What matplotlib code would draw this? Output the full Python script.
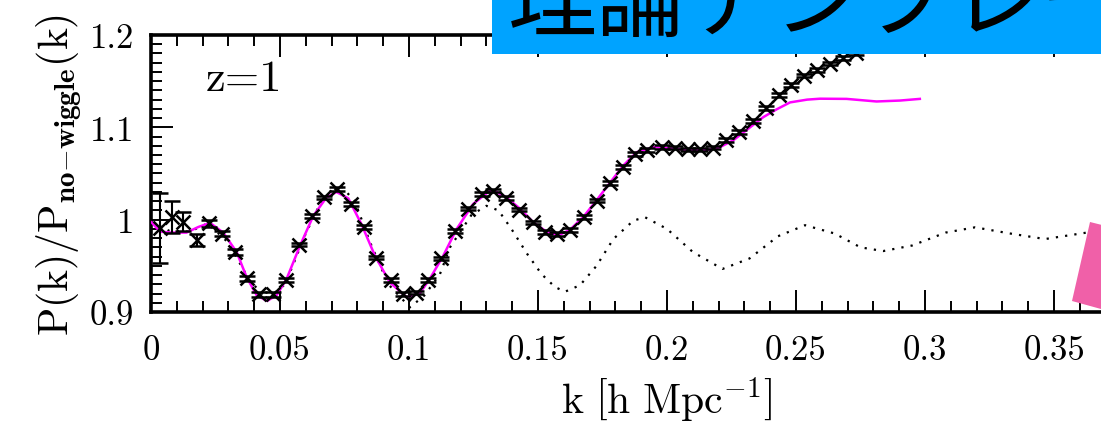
import numpy as np
import matplotlib
matplotlib.use("Agg")
import matplotlib.pyplot as plt
from matplotlib.patches import Rectangle, Polygon

plt.rcParams['font.family'] = 'cmr10'
plt.rcParams['mathtext.fontset'] = 'cm'
plt.rcParams['axes.formatter.use_mathtext'] = True

# measured P(k)/P_nw with errors (z=1)
k_data = [0.0035, 0.008, 0.0123, 0.0177, 0.0226, 0.0274, 0.0326, 0.0373, 0.042, 0.0474,
          0.0522, 0.0575, 0.0623, 0.0672, 0.0723, 0.0774, 0.0826, 0.0871, 0.0929, 0.0978,
          0.1027, 0.1075, 0.1126, 0.1178, 0.123, 0.1282, 0.1327, 0.1376, 0.1428, 0.1479,
          0.1527, 0.1575, 0.1626, 0.1678, 0.173, 0.1779, 0.1828, 0.1876, 0.1924, 0.198,
          0.2031, 0.2083, 0.2128, 0.218, 0.2229, 0.228, 0.2332, 0.2382, 0.2434, 0.2479,
          0.2531, 0.258, 0.2631, 0.2683, 0.2734]
ratio_data = [0.991, 1.003, 0.998, 0.978, 0.996, 0.985, 0.965, 0.9365, 0.919, 0.919,
              0.935, 0.973, 1.004, 1.024, 1.033, 1.017, 0.992, 0.959, 0.935, 0.9195,
              0.921, 0.935, 0.958, 0.988, 1.012, 1.028, 1.0315, 1.0235, 1.011, 0.997,
              0.987, 0.9845, 0.989, 1.003, 1.0206, 1.0398, 1.057, 1.071, 1.0755, 1.079,
              1.078, 1.076, 1.076, 1.078, 1.086, 1.095, 1.107, 1.121, 1.135, 1.146,
              1.156, 1.162, 1.169, 1.175, 1.18]
err_data = [0.038, 0.017, 0.010, 0.006, 0.004, 0.003, 0.003, 0.0025, 0.0025, 0.0025,
            0.002, 0.002, 0.002, 0.002, 0.002, 0.002, 0.002, 0.002, 0.002, 0.002,
            0.002, 0.002, 0.002, 0.002, 0.002, 0.002, 0.002, 0.002, 0.002, 0.002,
            0.002, 0.002, 0.002, 0.002, 0.002, 0.002, 0.002, 0.002, 0.002, 0.002,
            0.002, 0.002, 0.002, 0.002, 0.002, 0.002, 0.002, 0.002, 0.002, 0.002,
            0.002, 0.002, 0.002, 0.002, 0.002]

# nonlinear model (magenta)
k_model = [0.0003, 0.0035, 0.008, 0.0138, 0.0183, 0.0229, 0.028, 0.0332, 0.0371, 0.041,
           0.045, 0.0487, 0.0526, 0.0578, 0.0629, 0.068, 0.0719, 0.0765, 0.0816, 0.0868,
           0.0926, 0.0991, 0.1043, 0.1081, 0.1133, 0.1185, 0.1249, 0.1307, 0.1327, 0.1378,
           0.143, 0.1482, 0.1533, 0.1579, 0.1624, 0.1676, 0.1727, 0.1779, 0.1831, 0.1882,
           0.1947, 0.2025, 0.2102, 0.2167, 0.2205, 0.2257, 0.2322, 0.2373, 0.2425, 0.2477,
           0.2543, 0.2593, 0.2696, 0.2812, 0.2903, 0.298]
ratio_model = [0.997, 0.987, 0.986, 0.986, 0.992, 0.9965, 0.986, 0.965, 0.9376, 0.918,
               0.912, 0.918, 0.936, 0.972, 1.004, 1.024, 1.030, 1.023, 0.995, 0.961,
               0.932, 0.916, 0.9206, 0.936, 0.961, 0.99, 1.017, 1.030, 1.032, 1.024,
               1.012, 0.997, 0.987, 0.983, 0.989, 1.003, 1.021, 1.040, 1.0587, 1.073,
               1.0785, 1.077, 1.075, 1.076, 1.0785, 1.086, 1.10, 1.111, 1.1195, 1.127,
               1.13, 1.131, 1.1308, 1.128, 1.129, 1.1308]

# linear theory (dotted)
k_lin = [0.0, 0.007, 0.015, 0.022, 0.03, 0.038, 0.045, 0.052, 0.06, 0.066,
         0.0733, 0.079, 0.085, 0.092, 0.1004, 0.106, 0.112, 0.1159, 0.1242, 0.130,
         0.1347, 0.1397, 0.1458, 0.1514, 0.1566, 0.1605, 0.1663, 0.1727, 0.1792, 0.187,
         0.1915, 0.2, 0.21, 0.2215, 0.232, 0.243, 0.2535, 0.265, 0.275, 0.2838,
         0.295, 0.308, 0.3194, 0.333, 0.3465, 0.3627, 0.375]
ratio_lin = [0.998, 0.988, 0.987, 0.996, 0.975, 0.935, 0.914, 0.93, 0.985, 1.02,
             1.0376, 1.02, 0.975, 0.93, 0.905, 0.918, 0.941, 0.970, 1.005, 1.015,
             1.010, 0.99, 0.963, 0.941, 0.927, 0.922, 0.929, 0.950, 0.979, 0.999,
             1.0026, 0.99, 0.965, 0.9466, 0.958, 0.982, 0.994, 0.985, 0.97, 0.966,
             0.972, 0.986, 0.9917, 0.985, 0.979, 0.986, 0.992]

xtick_vals = [0, 0.05, 0.1, 0.15, 0.2, 0.25, 0.3, 0.35]
xtick_text = ['0', '0.05', '0.1', '0.15', '0.2', '0.25', '0.3', '0.35']
ytick_vals = [0.9, 1.0, 1.1, 1.2]
ytick_text = ['0.9', '1', '1.1', '1.2']

fig = plt.figure(figsize=(11.01, 4.27), dpi=100)
ax = fig.add_axes([0.1371, 0.267, 0.9374, 0.6487])

ax.plot(k_lin, ratio_lin, color='black', lw=1.6, ls=(0, (1, 3.2)), zorder=2)
ax.plot(k_model, ratio_model, color='#ff00ff', lw=1.8, zorder=3)
ax.errorbar(k_data, ratio_data, yerr=err_data, fmt='x', color='black', ms=10, mew=1.8,
            elinewidth=1.5, capsize=6, capthick=1.9, zorder=4)

ax.set_xlim(0, 0.4)
ax.set_ylim(0.9, 1.2)
ax.set_xticks(xtick_vals)
ax.set_xticklabels(xtick_text)
ax.set_yticks(ytick_vals)
ax.set_yticklabels(ytick_text)
ax.set_xticks(np.arange(0, 0.401, 0.01), minor=True)
ax.set_yticks(np.arange(0.9, 1.2001, 0.01), minor=True)
ax.tick_params(which='both', direction='in', top=True, right=True, width=1.4,
               labelsize=25)
ax.tick_params(which='major', length=16)
ax.tick_params(axis='x', which='major', pad=16)
ax.tick_params(axis='y', which='major', pad=12)
ax.tick_params(which='minor', length=8)
for sp in ax.spines.values():
    sp.set_linewidth(2.6)

ax.set_xlabel(r'$\mathrm{k\ \left[h\ Mpc^{-1}\right]}$', fontsize=30, labelpad=6)
ax.set_ylabel(r'$\mathrm{P(k)/P_{\mathbf{no{-}wiggle}}(k)}$', fontsize=30, labelpad=4)
ax.text(0.036, 1.152, 'z=1', fontsize=32, ha='center', va='center')

# slide decorations over the plot
fig.patches.append(Rectangle((0.4469, 0.8712), 0.6, 0.2, transform=fig.transFigure,
                             facecolor='#00a3ff', edgecolor='none', zorder=10))
fig.text(0.461, 0.93, '理論テンプレート', fontsize=64, color='black',
         family=['Noto Sans CJK JP', 'DejaVu Sans'], ha='left', va='baseline', zorder=11)
pink = np.array([[1090, 223], [1072, 302], [1130, 318], [1150, 238]], dtype=float)
pink[:, 0] /= 1101
pink[:, 1] = 1 - pink[:, 1] / 427
fig.patches.append(Polygon(pink, closed=True, transform=fig.transFigure,
                           facecolor='#f060a8', edgecolor='none', zorder=10))

fig.savefig('out.png', dpi=100)
